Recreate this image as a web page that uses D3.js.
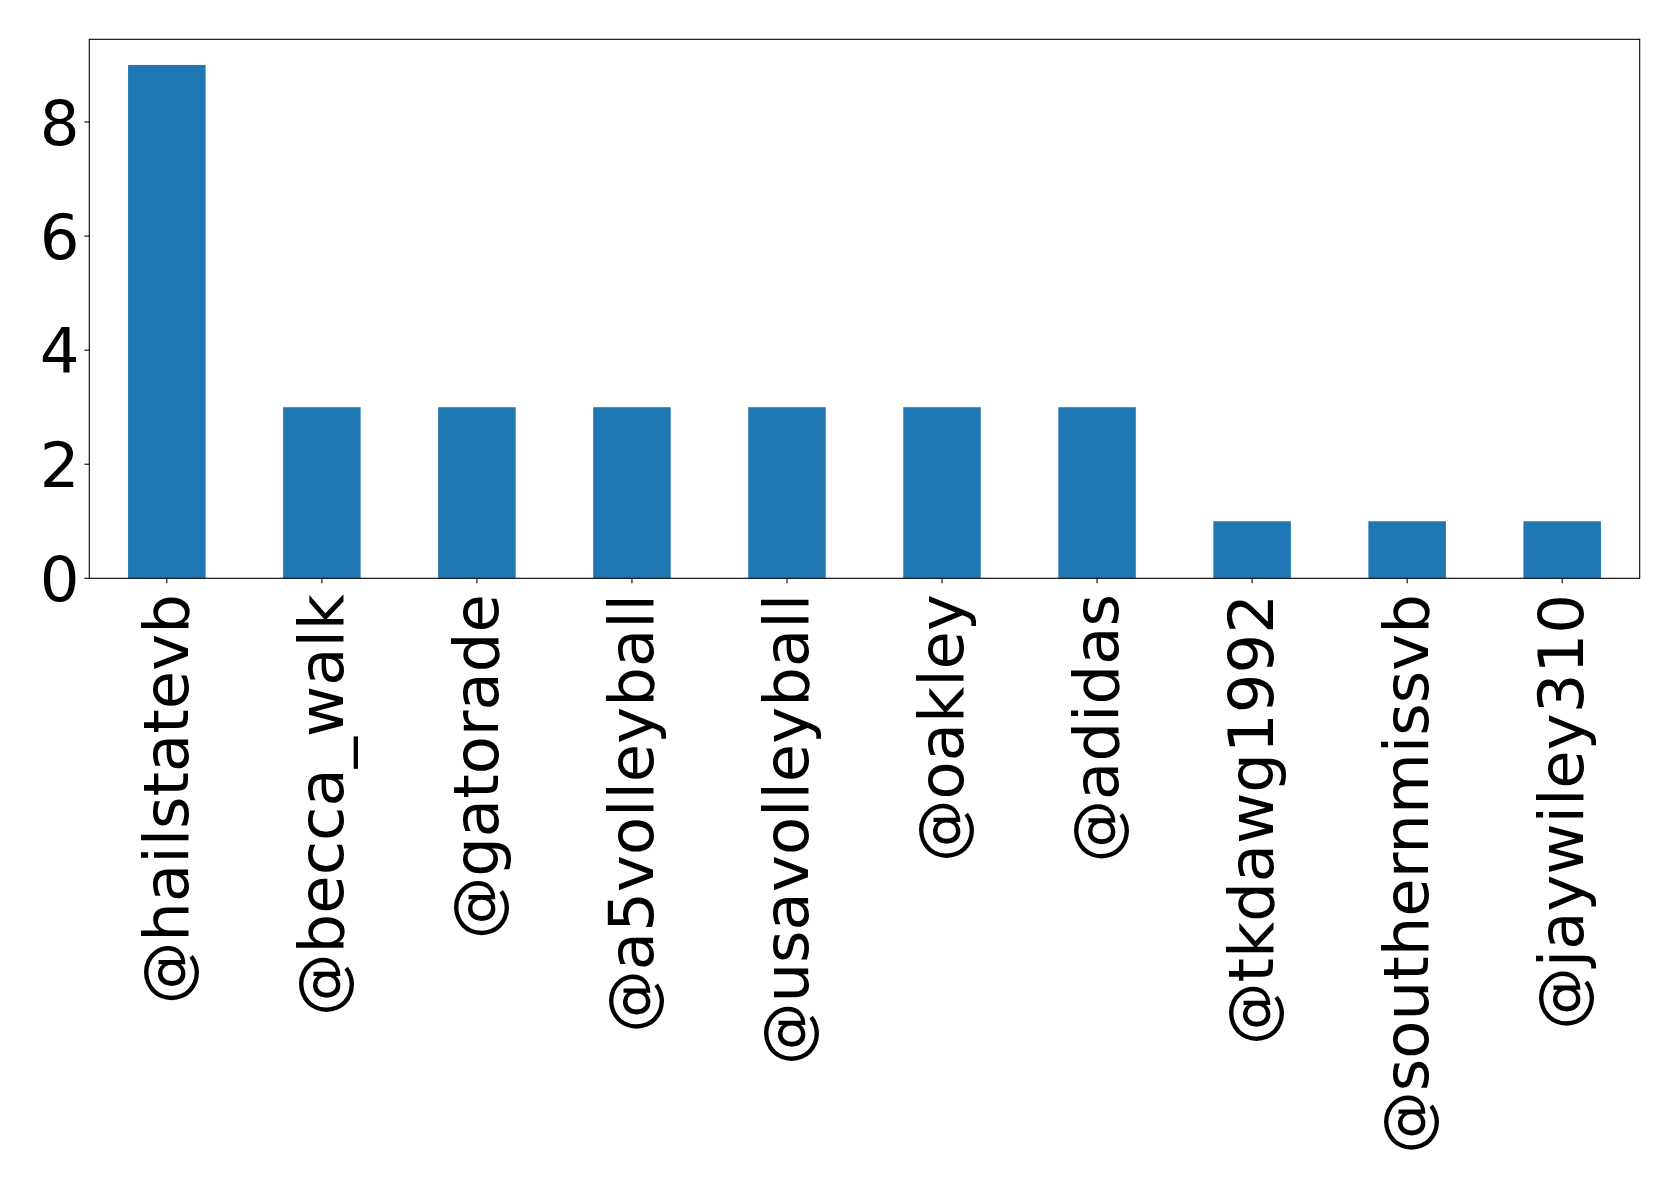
<!DOCTYPE html>
<html>
<head>
<meta charset="utf-8">
<script src="https://cdn.jsdelivr.net/npm/d3@7"></script>
<style>
  body { margin: 0; background: #fff; }
  svg { display: block; }
  text { font-family: "DejaVu Sans", sans-serif; fill: #000; }
</style>
</head>
<body>
<svg width="1679" height="1187"></svg>
<script>
const handles = ['@hailstatevb', '@becca_walk', '@gatorade', '@a5volleyball', '@usavolleyball',
  '@oakley', '@adidas', '@tkdawg1992', '@southernmissvb', '@jaywiley310'];
const counts = [9, 3, 3, 3, 3, 3, 3, 1, 1, 1];
const yTicks = [0, 2, 4, 6, 8];

const svg = d3.select('svg');
const plotLeft = 89.3;
const plotRight = 1639.7;
const plotTop = 39.3;
const plotBottom = 578.3;
const fontSize = 62.5;

const x = d3.scaleBand()
  .domain(handles)
  .range([plotLeft, plotRight])
  .paddingInner(0.5)
  .paddingOuter(0.25);

const y = d3.scaleLinear()
  .domain([0, d3.max(counts) * 1.05])
  .range([plotBottom, plotTop]);

svg.selectAll('rect.bar')
  .data(handles)
  .join('rect')
  .attr('class', 'bar')
  .attr('x', d => x(d))
  .attr('width', x.bandwidth())
  .attr('y', (d, i) => y(counts[i]))
  .attr('height', (d, i) => y(0) - y(counts[i]))
  .attr('fill', '#1f77b4');

// frame
svg.append('rect')
  .attr('x', plotLeft).attr('y', plotTop)
  .attr('width', plotRight - plotLeft).attr('height', plotBottom - plotTop)
  .attr('fill', 'none').attr('stroke', '#000').attr('stroke-width', 1.1);

// y axis
const yAxis = svg.append('g');
yAxis.selectAll('line')
  .data(yTicks)
  .join('line')
  .attr('x1', plotLeft - 4.9).attr('x2', plotLeft)
  .attr('y1', d => y(d)).attr('y2', d => y(d))
  .attr('stroke', '#000').attr('stroke-width', 1.1);
yAxis.selectAll('text')
  .data(yTicks)
  .join('text')
  .attr('x', plotLeft - 9.8)
  .attr('y', d => y(d))
  .attr('dy', '0.36em')
  .attr('text-anchor', 'end')
  .style('font-size', fontSize + 'px')
  .text(d => d);

// x axis
const xAxis = svg.append('g');
xAxis.selectAll('line')
  .data(handles)
  .join('line')
  .attr('x1', d => x(d) + x.bandwidth() / 2)
  .attr('x2', d => x(d) + x.bandwidth() / 2)
  .attr('y1', plotBottom).attr('y2', plotBottom + 4.9)
  .attr('stroke', '#000').attr('stroke-width', 1.1);
xAxis.selectAll('text')
  .data(handles)
  .join('text')
  .attr('transform', d => `translate(${x(d) + x.bandwidth() / 2},594) rotate(-90)`)
  .attr('dy', '0.336em')
  .attr('text-anchor', 'end')
  .style('font-size', fontSize + 'px')
  .text(d => d);
</script>
</body>
</html>
